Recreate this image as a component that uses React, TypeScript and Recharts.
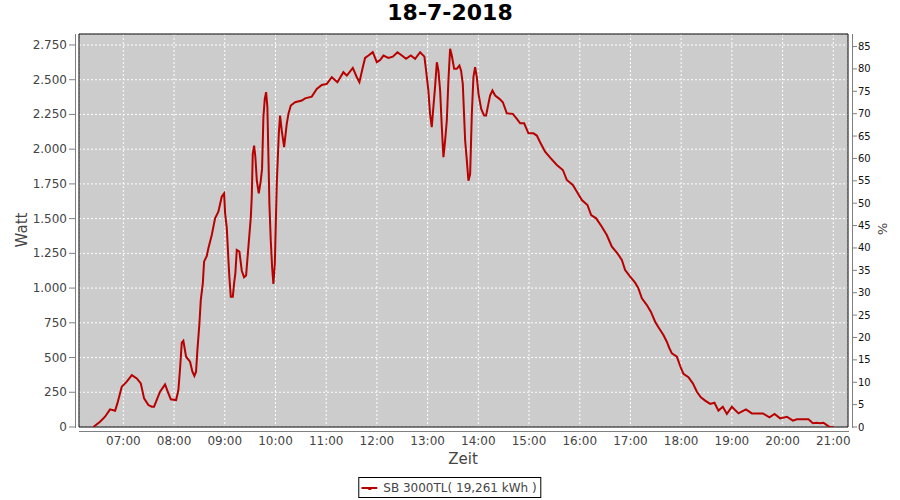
import React from 'react';
import { LineChart, Line, XAxis, YAxis, CartesianGrid, ReferenceArea } from 'recharts';

// time of day in minutes after midnight
const minutes = [
  384.5, 392.4, 398.3, 404.2, 410.2, 412.9, 418.1, 424, 430, 435.9, 440.6, 444.5, 449.6, 453.6, 456.3,
  463.4, 469.3, 473.3, 476.1, 482.4, 485.1, 487.1, 489.1, 491, 494.2, 498.9, 501.7, 504, 506, 507.6,
  510, 511.6, 514, 515.5, 518.7, 520.6, 524.6, 528.5, 532.4, 536.4, 539.2, 540.4, 542.4, 544.3, 545.4,
  547.1, 549.5, 551, 552.5, 554.2, 557.3, 560.1, 562.8, 565.2, 567.9, 570.8, 571.9, 573.1, 574.7, 576.2,
  577.9, 580.2, 582.6, 584.1, 585.7, 587.3, 588.9, 590.4, 592.8, 594.4, 596, 597.5, 599.2, 601.5, 603.9,
  605.4, 607.4, 610.2, 613.3, 615.3, 618.1, 623.2, 631.1, 635, 642.9, 648.8, 654.8, 660.7, 666.6, 673.3,
  680.3, 684.4, 691.5, 696.2, 699.3, 703.3, 706, 710, 715.1, 719.9, 723.8, 727.7, 733.6, 738.8, 744.3,
  749.5, 754.5, 760.1, 765.2, 771.1, 776.2, 778.2, 780.9, 782.9, 784.9, 786.8, 788.8, 790.9, 792.8, 794.8,
  796.8, 798.7, 800.7, 802.7, 804.6, 806.6, 808.6, 811.4, 814.5, 817.6, 819.6, 821.6, 824.4, 826.4, 828.3,
  830.3, 832.3, 834.2, 836.2, 838.2, 840.2, 843.4, 846.9, 849.2, 851.9, 853.9, 856.7, 859.9, 865, 869,
  873.7, 880.8, 885.6, 889.5, 894.2, 899.3, 905.2, 909.2, 913.1, 919, 925, 932.9, 940, 944.7, 951.8,
  956.6, 962.5, 969.1, 973.5, 979.4, 986.1, 992, 998, 1004.6, 1009.8, 1013.7, 1019.6, 1025.5, 1029.4, 1033.5,
  1039.4, 1044.1, 1049.2, 1053.1, 1059, 1063, 1066.1, 1069, 1074.9, 1078.8, 1082.7, 1088.6, 1093.8, 1098.6, 1103.3,
  1108.4, 1114.3, 1119.4, 1124.1, 1129.3, 1134.1, 1140, 1147.8, 1156.6, 1163.7, 1176.7, 1184.5, 1190.5, 1197.1, 1205.1,
  1212.2, 1216.9, 1230.6, 1235.9, 1240.6, 1244.5, 1248.4, 1252.4, 1255.5, 1260.2,
];

const watts = [
  0, 38, 74, 127, 117, 170, 290, 326, 374, 350, 314, 206, 158, 146, 146,
  254, 307, 242, 199, 194, 266, 422, 607, 621, 506, 470, 398, 367, 398, 554,
  747, 914, 1034, 1190, 1231, 1287, 1382, 1502, 1550, 1658, 1682, 1538, 1430, 1202, 1082,
  938, 938, 1034, 1106, 1274, 1262, 1125, 1078, 1090, 1294, 1510, 1654, 1966, 2026, 1942,
  1774, 1682, 1774, 1858, 2230, 2362, 2410, 2302, 1606, 1342, 1150, 1030, 1174, 1750, 2110,
  2242, 2134, 2014, 2182, 2254, 2314, 2338, 2350, 2366, 2378, 2434, 2462, 2470, 2518, 2482,
  2554, 2530, 2585, 2518, 2482, 2590, 2657, 2674, 2698, 2626, 2642, 2674, 2657, 2666, 2698,
  2674, 2650, 2674, 2650, 2698, 2666, 2565, 2421, 2254, 2158, 2302, 2446, 2626, 2565, 2421,
  2158, 1942, 2062, 2206, 2494, 2722, 2674, 2578, 2578, 2602, 2565, 2470, 2062, 1917, 1773,
  1821, 2254, 2518, 2590, 2518, 2398, 2290, 2242, 2242, 2326, 2386, 2422, 2386, 2362, 2338,
  2258, 2254, 2218, 2186, 2186, 2114, 2114, 2098, 2050, 1982, 1939, 1886, 1850, 1778, 1742,
  1694, 1634, 1598, 1526, 1502, 1442, 1382, 1298, 1250, 1202, 1130, 1082, 1039, 998, 926,
  878, 830, 758, 718, 662, 614, 567, 530, 506, 439, 382, 358, 314, 254, 214,
  190, 166, 175, 118, 146, 94, 146, 98, 127, 98, 98, 70, 94, 62, 74,
  46, 55, 55, 27, 31, 27, 31, 14, 2, 0,
];

const hourTicks = [420, 480, 540, 600, 660, 720, 780, 840, 900, 960, 1020, 1080, 1140, 1200, 1260];
const wattTicks = [0, 250, 500, 750, 1000, 1250, 1500, 1750, 2000, 2250, 2500, 2750];
const percentTicks = [0, 5, 10, 15, 20, 25, 30, 35, 40, 45, 50, 55, 60, 65, 70, 75, 80, 85];

const timeDomain = [367.5, 1277.4];
const wattDomain = [0, 2829];
const percentDomain = [0, 87.8];

const data = minutes.map((t, i) => ({ t, w: watts[i] }));

const FONT = '"DejaVu Sans", sans-serif';
const LINE_COLOR = '#b80000';

const pad = (n: number) => String(n).padStart(2, '0');
const fmtTime = (m: number) => `${pad(Math.floor(m / 60))}:${pad(Math.round(m % 60))}`;
const fmtWatt = (v: number) => String(v).replace(/\B(?=(\d{3})+(?!\d))/g, '.');

const LeftTick = ({ x, y, payload }: any) => (
  <g>
    <line x1={x - 10} x2={x - 4} y1={y} y2={y} stroke="#808080" />
    <text x={x - 12} y={y} textAnchor="end" dominantBaseline="central" fontSize={12} fill="#444" fontFamily={FONT}>
      {fmtWatt(payload.value)}
    </text>
  </g>
);

const RightTick = ({ x, y, payload }: any) => (
  <g>
    <line x1={x + 4} x2={x + 9} y1={y} y2={y} stroke="#808080" />
    <text x={x + 10} y={y} textAnchor="start" dominantBaseline="central" fontSize={10} fill="#111" fontFamily={FONT}>
      {payload.value}
    </text>
  </g>
);

const BottomTick = ({ x, y, payload }: any) => (
  <text x={x} y={y + 14} textAnchor="middle" dominantBaseline="central" fontSize={12} fill="#444" fontFamily={FONT}>
    {fmtTime(payload.value)}
  </text>
);

const App: React.FC = () => {
  return (
    <div style={{ position: 'relative', width: 900, height: 500, background: '#fff', fontFamily: FONT }}>
      <style>{`body { margin: 0; }`}</style>
      <div style={{ position: 'absolute', top: 0, left: 0, width: 900, textAlign: 'center', fontSize: 22, fontWeight: 'bold', lineHeight: '26px', color: '#000' }}>
        18-7-2018
      </div>

      <LineChart width={900} height={500} data={data} margin={{ top: 34, right: 12, bottom: 43, left: 9 }}>
        <CartesianGrid fill="#cccccc" stroke="#ffffff" strokeDasharray="2 2" />
        <XAxis
          dataKey="t"
          type="number"
          domain={timeDomain}
          ticks={hourTicks}
          interval={0}
          allowDataOverflow
          height={30}
          axisLine={false}
          tickLine={false}
          tickSize={0}
          tickMargin={0}
          tick={<BottomTick />}
        />
        <YAxis
          type="number"
          domain={wattDomain}
          ticks={wattTicks}
          interval={0}
          allowDataOverflow
          width={70}
          axisLine={false}
          tickLine={false}
          tickSize={0}
          tickMargin={0}
          tick={<LeftTick />}
        />
        <YAxis
          yAxisId="right"
          orientation="right"
          type="number"
          domain={percentDomain}
          ticks={percentTicks}
          interval={0}
          allowDataOverflow
          width={40}
          axisLine={false}
          tickLine={false}
          tickSize={0}
          tickMargin={0}
          tick={<RightTick />}
        />
        <Line
          type="linear"
          dataKey="w"
          stroke={LINE_COLOR}
          strokeWidth={2}
          dot={false}
          activeDot={false}
          isAnimationActive={false}
        />
        <ReferenceArea
          x1={timeDomain[0]}
          x2={timeDomain[1]}
          y1={wattDomain[0]}
          y2={wattDomain[1]}
          fill="none"
          stroke="#000"
          strokeWidth={1}
        />
      </LineChart>

      {/* offset axis lines */}
      <div style={{ position: 'absolute', left: 75, top: 34, width: 1, height: 394, background: '#808080' }} />
      <div style={{ position: 'absolute', left: 852, top: 34, width: 1, height: 394, background: '#808080' }} />
      <div style={{ position: 'absolute', left: 79, top: 431, width: 770, height: 1, background: '#808080' }} />

      <div style={{ position: 'absolute', left: 22, top: 230, transform: 'translate(-50%, -50%) rotate(-90deg)', fontSize: 15, color: '#444', whiteSpace: 'nowrap' }}>
        Watt
      </div>
      <div style={{ position: 'absolute', left: 882, top: 229, transform: 'translate(-50%, -50%) rotate(90deg)', fontSize: 13, color: '#444', whiteSpace: 'nowrap' }}>
        %
      </div>
      <div style={{ position: 'absolute', left: 463, top: 459, transform: 'translate(-50%, -50%)', fontSize: 15, color: '#444', whiteSpace: 'nowrap' }}>
        Zeit
      </div>

      <div style={{ position: 'absolute', left: 450, top: 477, transform: 'translateX(-50%)', height: 21, boxSizing: 'border-box', border: '1px solid #000', display: 'flex', alignItems: 'center', padding: '0 4px 0 2px', whiteSpace: 'nowrap' }}>
        <svg width={18} height={10} style={{ marginRight: 4 }}>
          <line x1={0} x2={16} y1={5} y2={5} stroke={LINE_COLOR} strokeWidth={2} />
          <rect x={7} y={4} width={3} height={3} fill={LINE_COLOR} />
        </svg>
        <span style={{ fontSize: 12, color: '#444' }}>SB 3000TL( 19,261 kWh )</span>
      </div>
    </div>
  );
};

export default App;
